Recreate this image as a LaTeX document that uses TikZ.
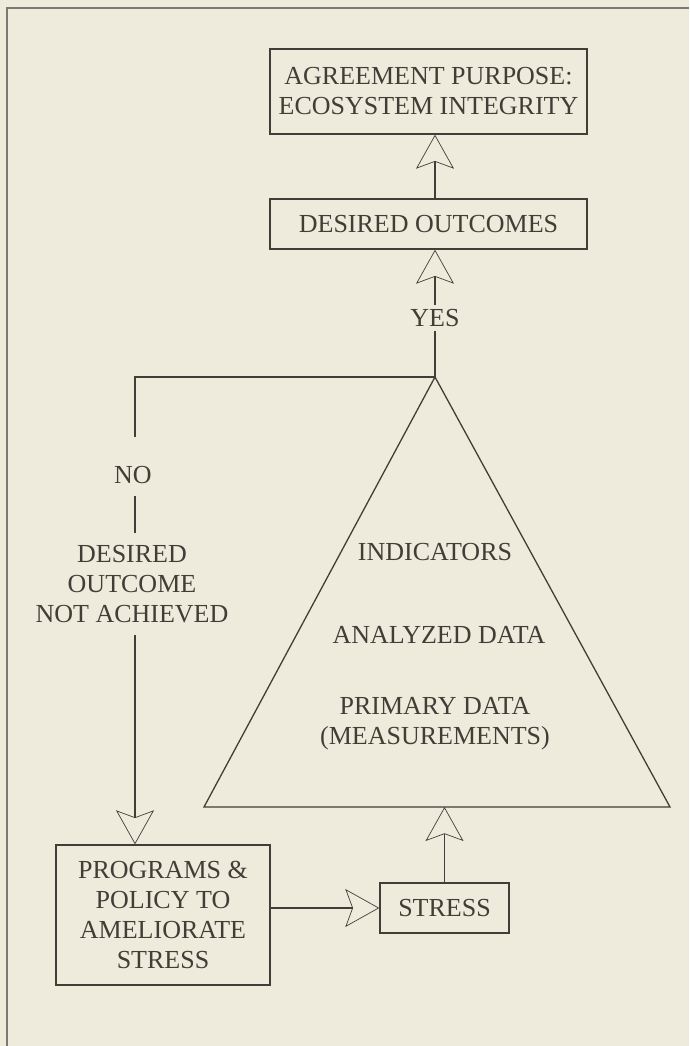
\documentclass[tikz,border=0pt]{standalone}
\usepackage{fontspec}
\setmainfont{Liberation Serif}
\usepackage{xcolor}
\usetikzlibrary{positioning,arrows.meta}

\definecolor{paper}{HTML}{EEEBDC}
\definecolor{ink}{HTML}{403E37}
\definecolor{rule}{HTML}{7A7A72}

\begin{document}
\begin{tikzpicture}[
  x=1pt, y=-1pt,
  >={Stealth[open, length=34pt, width=38pt, inset=7pt, line width=0.7pt]},
  every node/.style={font=\fontsize{26}{30}\selectfont, text=ink},
  box/.style={draw=ink, line width=1.4pt, align=center, inner sep=0pt},
  tag/.style={align=center, inner sep=4pt},
  wire/.style={draw=ink, line width=1.3pt},
  flow/.style={wire, ->},
]
\useasboundingbox[fill=paper] (0,0) rectangle (689,1046);
\draw[rule, line width=2pt] (7,1046) -- (7,8) -- (689,8);

% boxes
\node[box, minimum width=317pt, minimum height=85pt] (purpose) at (428.5,91.5)
  {AGREEMENT PURPOSE:\\ECOSYSTEM INTEGRITY};
\node[box, minimum width=317pt, minimum height=50pt] (outcomes) at (428.5,224)
  {DESIRED OUTCOMES};
\node[box, minimum width=214pt, minimum height=140pt] (programs) at (163,915)
  {PROGRAMS \&\\POLICY TO\\AMELIORATE\\STRESS};
\node[box, minimum width=129pt, minimum height=50pt] (stress) at (444.5,908)
  {STRESS};

% indicator pyramid
\coordinate (apex) at (435,377);
\coordinate (bl)   at (204,807);
\coordinate (br)   at (670,807);
\draw[wire, line join=miter] (apex) -- (br) -- (bl) -- cycle;
\node[tag] (indicators) at (435,552) {INDICATORS};
\node[tag] (analyzed)   at (439,635) {ANALYZED DATA};
\node[tag] (primary)    at (435,724) {PRIMARY DATA\\(MEASUREMENTS)};

% decision labels
\coordinate (bend) at (135,377);
\node[tag] (yes) at (435,318) {YES};
\node[tag, inner sep=12pt] (no) at (133,475) {NO};
\node[tag, inner sep=12pt] (notach) at (132,584) {DESIRED\\OUTCOME\\NOT ACHIEVED};

\draw[flow] (outcomes.north -| apex) -- (purpose.south -| apex);
\draw[flow] (yes.north) -- (outcomes.south -| apex);
\draw[wire] (apex) -- (yes.south);
\draw[wire] (apex) -- (bend) -- ([yshift=17pt]no.north -| bend);
\draw[wire] (no.south -| bend) -- (notach.north -| bend);
\draw[flow] (notach.south -| bend) -- (programs.north -| bend);
\draw[flow] (programs.east |- stress.west) -- (stress.west);
\draw[flow] (stress.north) -- (stress.north |- bl);
\end{tikzpicture}
\end{document}
